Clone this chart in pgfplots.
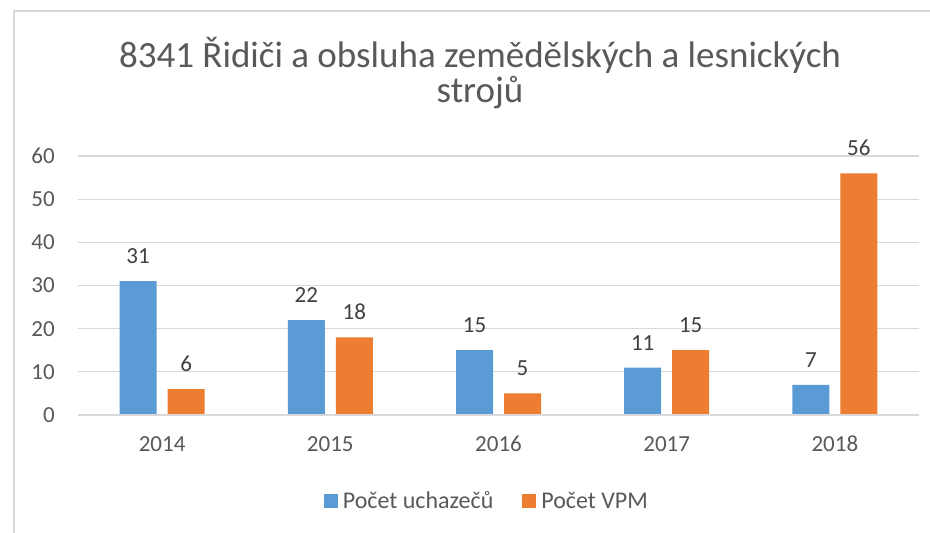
\documentclass[border=0pt]{standalone}
\usepackage{pgfplots}
\pgfplotsset{compat=1.18}
\usepackage{fontspec}
\setmainfont{Carlito}
\definecolor{xblue}{HTML}{5B9BD5}
\definecolor{xorange}{HTML}{ED7D31}
\definecolor{xtext}{HTML}{595959}
\definecolor{xlab}{HTML}{404040}
\definecolor{xgrid}{HTML}{D9D9D9}
\pgfplotsset{sqlegend/.style={legend image code/.code={\fill[##1] (0pt,-7pt) rectangle (14pt,7pt);}}}
\begin{document}
\begin{tikzpicture}[x=1pt,y=1pt]
\useasboundingbox (0,0) rectangle (930,533);
\clip (0,0) rectangle (930,533);
\fill[white] (0,0) rectangle (930,533);
\draw[xgrid, line width=1.2pt] (14,-20) -- (14,522) -- (960,522);
\node[anchor=base, font=\fontsize{37}{40}\selectfont, text=xtext] at (480,465) {8341 Řidiči a obsluha zemědělských a lesnických};
\node[anchor=base, font=\fontsize{37}{40}\selectfont, text=xtext] at (480,430) {strojů};
\begin{axis}[
  at={(78pt,118pt)}, anchor=south west,
  width=841pt, height=259pt, scale only axis,
  xmin=-0.5, xmax=4.5, ymin=0, ymax=60,
  ybar, bar width=37pt,
  axis line style={draw=none},
  axis x line*=bottom,
  ytick={0,10,...,60},
  xtick={0,1,2,3,4},
  xticklabels={2014,2015,2016,2017,2018},
  major tick length=0pt,
  ymajorgrids, grid style={xgrid, line width=1.2pt},
  /pgf/number format/assume math mode=true,
  tick label style={font=\fontsize{23}{26}\selectfont, text=xtext},
  yticklabel style={anchor=east, inner sep=0pt, xshift=-23pt},
  xticklabel style={anchor=base, inner sep=0pt, yshift=-36.5pt},
  nodes near coords,
  every node near coord/.append style={font=\fontsize{23}{26}\selectfont, text=xlab, anchor=base, inner sep=0pt, yshift=17.5pt},
  sqlegend,
  legend columns=2,
  legend style={draw=none, fill=none, at={(0.485,-0.332)}, anchor=center,
    font=\fontsize{24}{26}\selectfont, text=xtext,
    /tikz/every odd column/.append style={column sep=5pt},
    /tikz/every even column/.append style={column sep=29pt},
    nodes={inner sep=0pt}},
  clip=false,
]
\addplot[fill=xblue, draw=none, bar shift=-24pt] coordinates {(0,31) (1,22) (2,15) (3,11) (4,7)};
\addplot[fill=xorange, draw=none, bar shift=24pt] coordinates {(0,6) (1,18) (2,5) (3,15) (4,56)};
\draw[xgrid, line width=1.2pt] (axis cs:-0.5,0) -- (axis cs:4.5,0);
\legend{Počet uchazečů, Počet VPM}
\end{axis}
\end{tikzpicture}
\end{document}
